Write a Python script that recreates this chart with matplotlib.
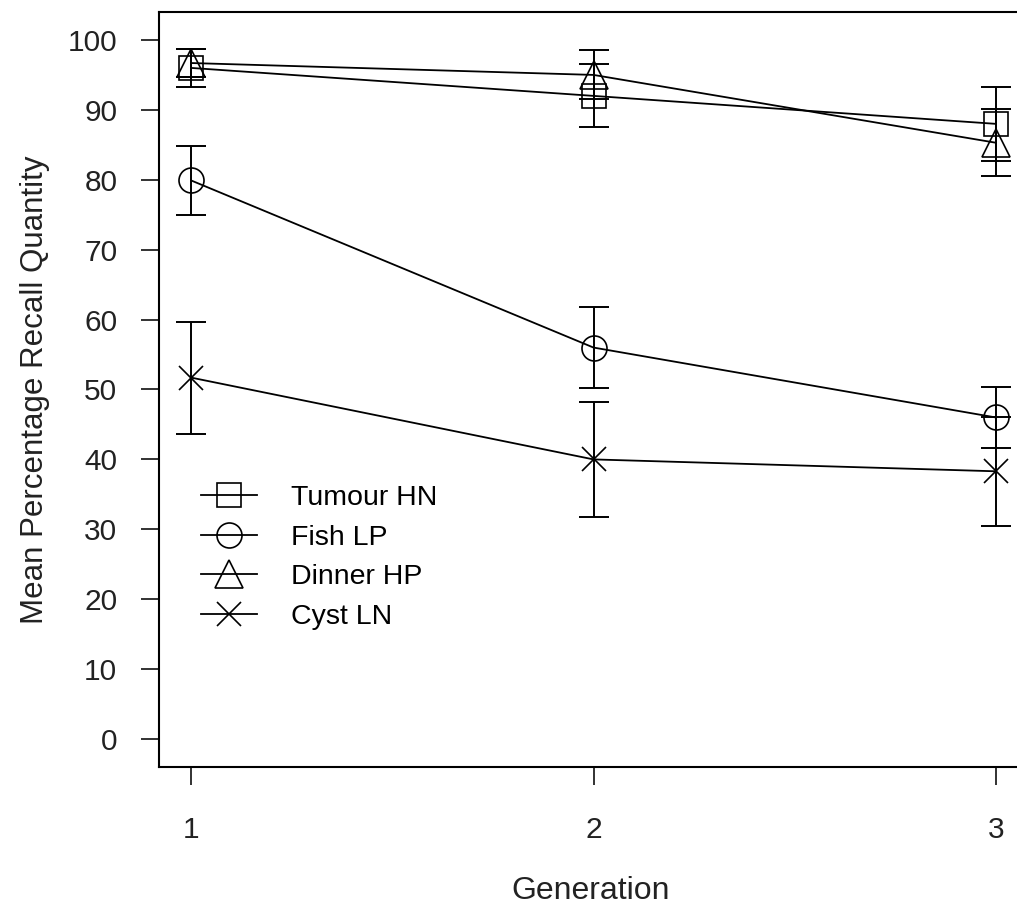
import numpy as np
import matplotlib
matplotlib.use("Agg")
import matplotlib.pyplot as plt

plt.rcParams['font.family'] = ['Liberation Sans', 'DejaVu Sans']

# values
generation = [1, 2, 3]
series_names = ['Tumour HN', 'Fish LP', 'Dinner HP', 'Cyst LN']
tumour = [96.0, 92.0, 88.0]
tumour_err = [2.7, 4.5, 5.3]
fish = [79.9, 56.0, 46.0]
fish_err = [5.0, 5.8, 4.3]
dinner = [96.7, 95.0, 85.3]
dinner_err = [2.0, 3.5, 4.8]
cyst = [51.7, 40.0, 38.3]
cyst_err = [8.0, 8.2, 7.8]
y_ticks = list(range(0, 101, 10))

W, H = 1017, 918
fig = plt.figure(figsize=(W / 100, H / 100), dpi=100)
# plot region (R style, right edge runs off the picture)
ax = fig.add_axes([159 / W, 1 - 767 / H, 869 / W, 755 / H])

markers = ['s', 'o', '^', 'x']
sizes = [17, 18, 19.5, 17]
values = [tumour, fish, dinner, cyst]
errors = [tumour_err, fish_err, dinner_err, cyst_err]

handles = []
for name, m, ms, v, e in zip(series_names, markers, sizes, values, errors):
    ax.errorbar(generation, v, yerr=e, fmt='none', ecolor='black',
                elinewidth=1.4, capsize=11, capthick=1.4)
    line, = ax.plot(generation, v, color='black', lw=1.3, marker=m,
                    markersize=ms, markerfacecolor='none',
                    markeredgecolor='black', markeredgewidth=1.2, label=name)
    handles.append(line)

ax.set_xlim(0.92, 3.08)
ax.set_ylim(-4, 104)
ax.set_xticks(generation)
ax.set_yticks(y_ticks)
ax.tick_params(axis='both', direction='out', length=13, width=1.3,
               labelsize=21.5, colors='#222222')
ax.tick_params(axis='x', pad=22)
ax.tick_params(axis='y', pad=17)
for s in ax.spines.values():
    s.set_linewidth(1.5)

ax.set_xlabel('Generation', fontsize=23, color='#222222')
ax.set_ylabel('Mean Percentage Recall Quantity', fontsize=22.5, color='#222222')
ax.xaxis.set_label_coords(0.497, -0.164)
ax.xaxis.label.set_va('center')
ax.yaxis.set_label_coords(-0.1427, 0.5)
ax.yaxis.label.set_va('center')

ax.legend(handles=handles, loc='upper left',
          bbox_to_anchor=(201 / W, 1 - 485 / H), bbox_transform=fig.transFigure,
          frameon=False, fontsize=20.5, handlelength=1.95, handletextpad=1.2,
          labelspacing=0.48, borderpad=0, borderaxespad=0)

fig.savefig('out.png', dpi=100)
